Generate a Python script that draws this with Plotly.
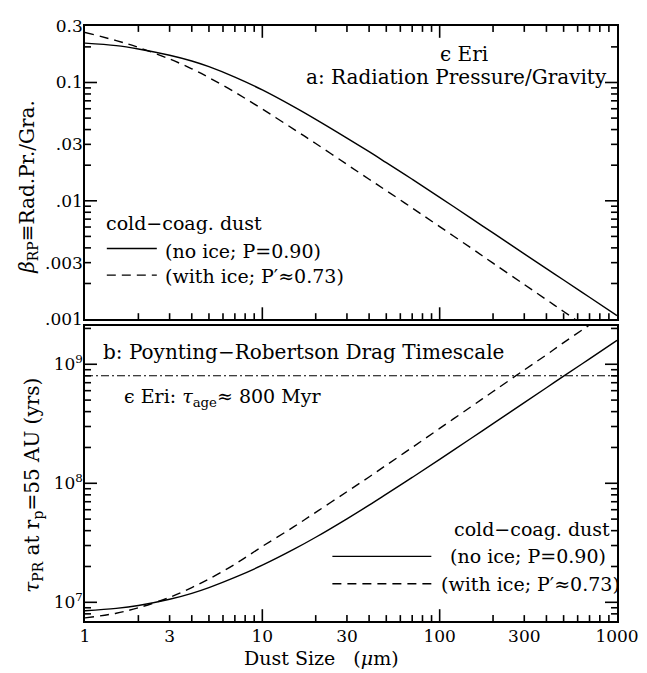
import math
import plotly.graph_objects as go

# ---------------- data ----------------
size_um = [1, 1.5, 2, 3, 4, 5, 7, 10, 15, 20, 30, 40, 50, 70, 100, 150, 200, 300, 400, 500, 700, 1000]

beta_no_ice = [0.215, 0.205, 0.192, 0.170, 0.152, 0.136, 0.111, 0.0865, 0.0625, 0.0488, 0.0339,
               0.026, 0.021, 0.0152, 0.0107, 0.00713, 0.00535, 0.00356, 0.00267, 0.00214,
               0.00153, 0.00107]
beta_with_ice = [0.265, 0.226, 0.198, 0.158, 0.1306, 0.110, 0.0828, 0.0596, 0.0404, 0.0305, 0.0203,
                 0.0152, 0.0122, 0.0087, 0.00605, 0.0040, 0.00297, 0.00196, 0.00146, 0.00116,
                 0.00082, 0.00057]

tau_no_ice = [8.5e6, 8.9e6, 9.4e6, 1.06e7, 1.19e7, 1.33e7, 1.62e7, 2.05e7, 2.78e7, 3.52e7, 5.03e7,
              6.55e7, 8.1e7, 1.12e8, 1.59e8, 2.38e8, 3.17e8, 4.76e8, 6.35e8, 7.94e8, 1.11e9, 1.59e9]
tau_with_ice = [7.4e6, 8.1e6, 9.0e6, 1.1e7, 1.33e7, 1.57e7, 2.09e7, 2.95e7, 4.3e7, 5.7e7, 8.5e7,
                1.13e8, 1.42e8, 2.0e8, 2.89e8, 4.39e8, 5.9e8, 8.96e8, 1.2e9, 1.52e9, 2.14e9, 3.08e9]

tau_age = 8e8

x_tickvals = [1, 3, 10, 30, 100, 300, 1000]
x_ticktext = ["1", "3", "10", "30", "100", "300", "1000"]
x_major = [10, 100]
x_minor = [2, 3, 4, 5, 6, 7, 8, 9, 20, 30, 40, 50, 60, 70, 80, 90,
           200, 300, 400, 500, 600, 700, 800, 900]

beta_tickvals = [0.3, 0.1, 0.03, 0.01, 0.003, 0.001]
beta_ticktext = ["0.3", "0.1", ".03", ".01", ".003", ".001"]
beta_major = [0.1, 0.01]
beta_minor = [0.002, 0.003, 0.004, 0.005, 0.006, 0.007, 0.008, 0.009,
              0.02, 0.03, 0.04, 0.05, 0.06, 0.07, 0.08, 0.09, 0.2]

tau_tickvals = [1e7, 1e8, 1e9]
tau_ticktext = ["10<sup>7</sup>", "10<sup>8</sup>", "10<sup>9</sup>"]
tau_major = [1e7, 1e8, 1e9]
tau_minor = [8e6, 9e6, 2e7, 3e7, 4e7, 5e7, 6e7, 7e7, 8e7, 9e7,
             2e8, 3e8, 4e8, 5e8, 6e8, 7e8, 8e8, 9e8, 2e9]

x_range = [0, 3]
beta_range = [-3, -0.5225]
tau_range = [6.843, 9.322]

FONT = "DejaVu Serif"
BLACK = "black"
LW = 1.4
DASH = "9px,6px"
DASHDOT = "8px,3px,2px,3px"

# figure geometry (page body adds an 8px margin)
W, H = 639, 665
ML, MR, MT, MB = 77, 29, 8, 52
PLOT_W = W - ML - MR
PLOT_H = H - MT - MB
top_dom = [0.5074, 1.0]
bot_dom = [0.0, 0.4959]
TOP_H = (top_dom[1] - top_dom[0]) * PLOT_H
BOT_H = (bot_dom[1] - bot_dom[0]) * PLOT_H
MAJ_LEN, MIN_LEN = 12, 6

fig = go.Figure()

curve_line = dict(color=BLACK, width=LW, shape="spline", smoothing=1.0)

# panel a
fig.add_trace(go.Scatter(x=size_um, y=beta_no_ice, xaxis="x", yaxis="y", mode="lines",
                         line=curve_line, showlegend=False, hoverinfo="skip"))
fig.add_trace(go.Scatter(x=size_um, y=beta_with_ice, xaxis="x", yaxis="y", mode="lines",
                         line=dict(curve_line, dash=DASH), showlegend=False, hoverinfo="skip"))
# panel b
fig.add_trace(go.Scatter(x=size_um, y=tau_no_ice, xaxis="x2", yaxis="y2", mode="lines",
                         line=curve_line, showlegend=False, hoverinfo="skip"))
fig.add_trace(go.Scatter(x=size_um, y=tau_with_ice, xaxis="x2", yaxis="y2", mode="lines",
                         line=dict(curve_line, dash=DASH), showlegend=False, hoverinfo="skip"))
fig.add_trace(go.Scatter(x=[size_um[0], size_um[-1]], y=[tau_age, tau_age], xaxis="x2", yaxis="y2",
                         mode="lines", line=dict(color=BLACK, width=1.1, dash=DASHDOT),
                         showlegend=False, hoverinfo="skip"))


def base_axis(**kw):
    d = dict(type="log", showgrid=False, zeroline=False, showline=True, mirror=True,
             linecolor=BLACK, linewidth=1.5, ticks="",
             tickfont=dict(family=FONT, size=17, color=BLACK))
    d.update(kw)
    return d


fig.update_layout(
    width=W, height=H,
    margin=dict(l=ML, r=MR, t=MT, b=MB),
    paper_bgcolor="white", plot_bgcolor="white",
    font=dict(family=FONT, color=BLACK),
    xaxis=base_axis(domain=[0, 1], anchor="y", range=x_range, tickvals=x_tickvals,
                    showticklabels=False),
    yaxis=base_axis(domain=top_dom, anchor="x", range=beta_range, tickvals=beta_tickvals,
                    ticktext=beta_ticktext, ticklabelstandoff=-3),
    xaxis2=base_axis(domain=[0, 1], anchor="y2", range=x_range, tickvals=x_tickvals,
                     ticktext=x_ticktext, ticklabelstandoff=-1),
    yaxis2=base_axis(domain=bot_dom, anchor="x2", range=tau_range, tickvals=tau_tickvals,
                     ticktext=tau_ticktext, ticklabelstandoff=-3),
)

# ---- inward tick marks: positions follow each axis' log range (domain fractions) ----
TICK = dict(color=BLACK, width=1.6)


def log_frac(v, rng):
    return (math.log10(v) - rng[0]) / (rng[1] - rng[0])


def x_ticks(xdom, ydom, vals, length, panel_h, top_edge):
    frac = length / panel_h
    for v in vals:
        f = log_frac(v, x_range)
        if not 0 < f < 1:
            continue
        fig.add_shape(type="line", xref=xdom, yref=ydom, x0=f, x1=f, y0=0, y1=frac, line=TICK)
        if top_edge:
            fig.add_shape(type="line", xref=xdom, yref=ydom, x0=f, x1=f, y0=1, y1=1 - frac,
                          line=TICK)


def y_ticks(xdom, ydom, vals, rng, length):
    frac = length / PLOT_W
    for v in vals:
        f = log_frac(v, rng)
        if not 0 < f < 1:
            continue
        fig.add_shape(type="line", xref=xdom, yref=ydom, x0=0, x1=frac, y0=f, y1=f, line=TICK)
        fig.add_shape(type="line", xref=xdom, yref=ydom, x0=1, x1=1 - frac, y0=f, y1=f, line=TICK)


x_ticks("x domain", "y domain", x_major, MAJ_LEN, TOP_H, True)
x_ticks("x domain", "y domain", x_minor, MIN_LEN, TOP_H, True)
x_ticks("x2 domain", "y2 domain", x_major, MAJ_LEN, BOT_H, False)
x_ticks("x2 domain", "y2 domain", x_minor, MIN_LEN, BOT_H, False)
y_ticks("x domain", "y domain", beta_major, beta_range, MAJ_LEN)
y_ticks("x domain", "y domain", beta_minor, beta_range, MIN_LEN)
y_ticks("x2 domain", "y2 domain", tau_major, tau_range, MAJ_LEN)
y_ticks("x2 domain", "y2 domain", tau_minor, tau_range, MIN_LEN)

# legend key lines (decorative)
fig.add_shape(type="line", xref="x domain", yref="y domain", x0=0.041, x1=0.135, y0=0.241, y1=0.241,
              line=dict(color=BLACK, width=LW))
fig.add_shape(type="line", xref="x domain", yref="y domain", x0=0.041, x1=0.135, y0=0.150, y1=0.150,
              line=dict(color=BLACK, width=LW, dash=DASH))
fig.add_shape(type="line", xref="x2 domain", yref="y2 domain", x0=0.465, x1=0.651, y0=0.219, y1=0.219,
              line=dict(color=BLACK, width=LW))
fig.add_shape(type="line", xref="x2 domain", yref="y2 domain", x0=0.465, x1=0.651, y0=0.126, y1=0.126,
              line=dict(color=BLACK, width=LW, dash=DASH))


def note(text, xref, yref, x, y, xanchor="left", size=19, **kw):
    fig.add_annotation(text=text, xref=xref, yref=yref, x=x, y=y, xanchor=xanchor,
                       yanchor="middle", showarrow=False,
                       font=dict(family=FONT, size=size, color=BLACK), **kw)


# panel a texts
note("ϵ Eri", "x domain", "y domain", 0.713, 0.903, xanchor="center", size=20)
note("a: Radiation Pressure/Gravity", "x domain", "y domain", 0.985, 0.826, xanchor="right", size=20)
note("cold−coag. dust", "x domain", "y domain", 0.036, 0.328)
note("(no ice; P=0.90)", "x domain", "y domain", 0.146, 0.234)
note("(with ice; P′≈0.73)", "x domain", "y domain", 0.146, 0.147)

# panel b texts
note("b: Poynting−Robertson Drag Timescale", "x2 domain", "y2 domain", 0.031, 0.910, size=20)
note("ϵ Eri: <i>τ</i><sub>age</sub>≈ 800 Myr", "x2 domain", "y2 domain", 0.07, 0.757)
note("cold−coag. dust", "x2 domain", "y2 domain", 0.690, 0.312)
note("(no ice; P=0.90)", "x2 domain", "y2 domain", 0.683, 0.219)
note("(with ice; P′≈0.73)", "x2 domain", "y2 domain", 0.666, 0.126)

# axis titles
note("<i>β</i><sub>RP</sub>≡Rad.Pr./Gra.", "paper", "y domain", 0, 0.4515, xanchor="center",
     size=20, textangle=-90, xshift=-57)
note("<i>τ</i><sub>PR</sub> at r<sub>p</sub>=55 AU (yrs)", "paper", "y2 domain", 0, 0.458,
     xanchor="center", size=20, textangle=-90, xshift=-52)
note("Dust Size\u00a0\u00a0 (<i>μ</i>m)", "paper", "paper", 0.445, -0.063, xanchor="center", size=19)

fig.write_html("out.html")
